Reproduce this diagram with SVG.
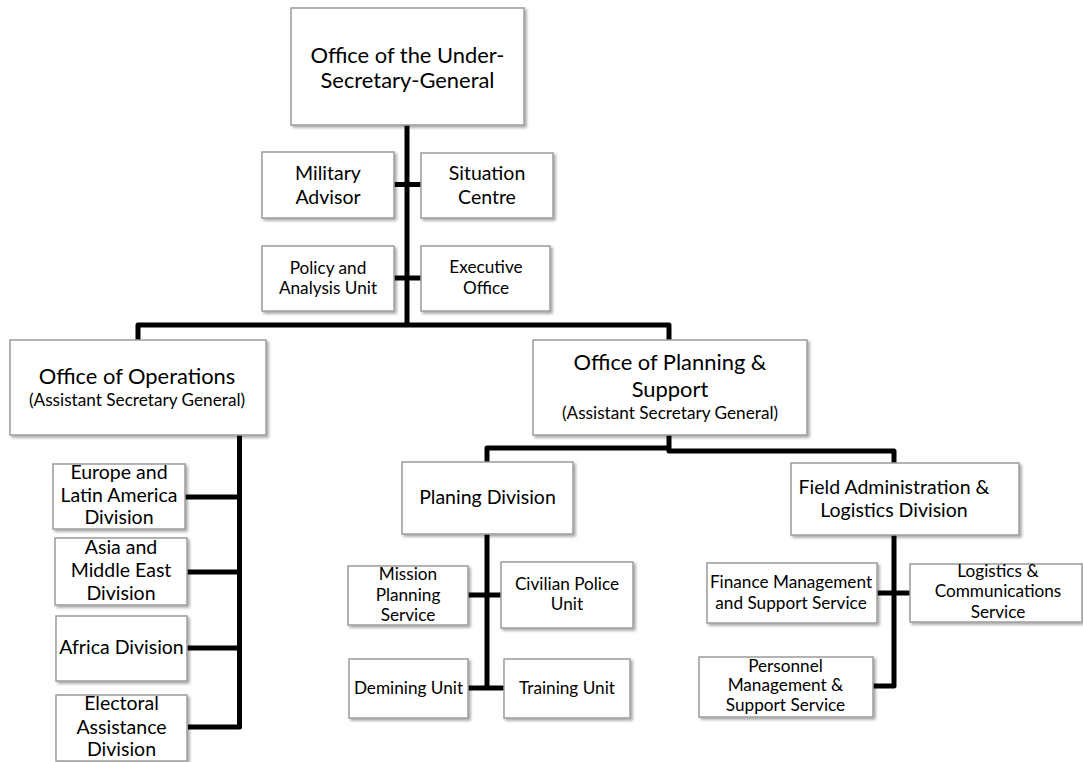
<svg xmlns="http://www.w3.org/2000/svg" width="1083" height="762" viewBox="0 0 1083 762">
<style>
.box{fill:#fff;stroke:#9c9c9c;stroke-width:1.5;filter:url(#sh)}
text{font-family:Lato,"Liberation Sans",sans-serif;fill:#000;text-anchor:middle}
.big{font-size:21.9px}
.med{font-size:19.5px}
.sm{font-size:17.2px}
.con{fill:none;stroke:#000;stroke-width:5;stroke-linejoin:round}
</style>
<defs>
<filter id="sh" x="-10%" y="-10%" width="125%" height="130%">
<feGaussianBlur in="SourceAlpha" stdDeviation="1.5"/>
<feOffset dx="1.5" dy="2" result="o"/>
<feComponentTransfer><feFuncA type="linear" slope="0.35"/></feComponentTransfer>
<feMerge><feMergeNode/><feMergeNode in="SourceGraphic"/></feMerge>
</filter>
</defs>
<g id="connectors">
<path class="con" d="M407,125 V325"/>
<path class="con" d="M394,184.5 H421 M394,278 H421"/>
<path class="con" d="M138,340 V325 H669 V340"/>
<path class="con" d="M239.5,435 V727 H188 M185,497 H239.5 M187,572 H239.5 M187,648 H239.5"/>
<path class="con" d="M487,462 V448 H669 M669,435 V451 H894 V463"/>
<path class="con" d="M487,534 V688 M468,595 H501 M468,688 H504"/>
<path class="con" d="M894,535 V686 H873 M877,593 H910"/>
</g>
<g id="usg"><rect class="box" x="291" y="8" width="233" height="117"/>
<text class="big" x="407.5" y="63">Office of the Under-</text><text class="big" x="407.5" y="88">Secretary-General</text></g>
<g id="military"><rect class="box" x="262" y="152" width="132" height="66"/>
<text class="med" x="328" y="180">Military</text><text class="med" x="328" y="203.5">Advisor</text></g>
<g id="situation"><rect class="box" x="421" y="153" width="132" height="65"/>
<text class="med" x="487" y="179.5">Situation</text><text class="med" x="487" y="203.5">Centre</text></g>
<g id="policy"><rect class="box" x="262" y="246" width="132" height="65"/>
<text class="sm" x="328" y="273.5">Policy and</text><text class="sm" x="328" y="293.5">Analysis Unit</text></g>
<g id="executive"><rect class="box" x="421" y="246" width="129" height="65"/>
<text class="sm" x="486" y="273">Executive</text><text class="sm" x="486" y="293.5">Office</text></g>
<g id="operations"><rect class="box" x="10" y="340" width="256" height="95"/>
<text class="big" x="137" y="383.5">Office of Operations</text><text class="sm" x="137" y="406">(Assistant Secretary General)</text></g>
<g id="europe"><rect class="box" x="53" y="464" width="132" height="65"/>
<text class="med" x="119" y="478.5">Europe and</text><text class="med" x="119" y="501.5">Latin America</text><text class="med" x="119" y="524">Division</text></g>
<g id="asia"><rect class="box" x="55" y="538" width="132" height="67"/>
<text class="med" x="121" y="553.5">Asia and</text><text class="med" x="121" y="576.5">Middle East</text><text class="med" x="121" y="600">Division</text></g>
<g id="africa"><rect class="box" x="56" y="616" width="131" height="65"/>
<text class="med" x="121.5" y="653.5">Africa Division</text></g>
<g id="electoral"><rect class="box" x="56" y="695" width="131" height="66"/>
<text class="med" x="121.5" y="709.5">Electoral</text><text class="med" x="121.5" y="733.5">Assistance</text><text class="med" x="121.5" y="756">Division</text></g>
<g id="planning-support"><rect class="box" x="533" y="340" width="274" height="95"/>
<text class="big" x="670" y="370">Office of Planning &amp;</text><text class="big" x="670" y="396.5">Support</text><text class="sm" x="670" y="418.5">(Assistant Secretary General)</text></g>
<g id="planing-division"><rect class="box" x="402" y="462" width="171" height="72"/>
<text class="med" x="487.5" y="504">Planing Division</text></g>
<g id="mission"><rect class="box" x="348" y="566" width="120" height="59"/>
<text class="sm" x="408" y="579.5">Mission</text><text class="sm" x="408" y="600.5">Planning</text><text class="sm" x="408" y="621">Service</text></g>
<g id="civilian"><rect class="box" x="501" y="562" width="132" height="66"/>
<text class="sm" x="567" y="590">Civilian Police</text><text class="sm" x="567" y="610">Unit</text></g>
<g id="demining"><rect class="box" x="349" y="659" width="119" height="59"/>
<text class="sm" x="408.5" y="693.5">Demining Unit</text></g>
<g id="training"><rect class="box" x="504" y="659" width="126" height="59"/>
<text class="sm" x="567" y="693.5">Training Unit</text></g>
<g id="field-admin"><rect class="box" x="791" y="463" width="228" height="72"/>
<text class="med" x="894" y="494">Field Administration &amp;</text><text class="med" x="894" y="516.5">Logistics Division</text></g>
<g id="finance"><rect class="box" x="707" y="563" width="170" height="60"/>
<text class="sm" x="791" y="587.5">Finance Management</text><text class="sm" x="791" y="608.5">and Support Service</text></g>
<g id="logistics"><rect class="box" x="910" y="564" width="172" height="58"/>
<text class="sm" x="998" y="576.5">Logistics &amp;</text><text class="sm" x="998" y="597">Communications</text><text class="sm" x="998" y="617.5">Service</text></g>
<g id="personnel"><rect class="box" x="699" y="657" width="174" height="60"/>
<text class="sm" x="785.5" y="671.5">Personnel</text><text class="sm" x="785.5" y="690.5">Management &amp;</text><text class="sm" x="785.5" y="710.5">Support Service</text></g>
</svg>
